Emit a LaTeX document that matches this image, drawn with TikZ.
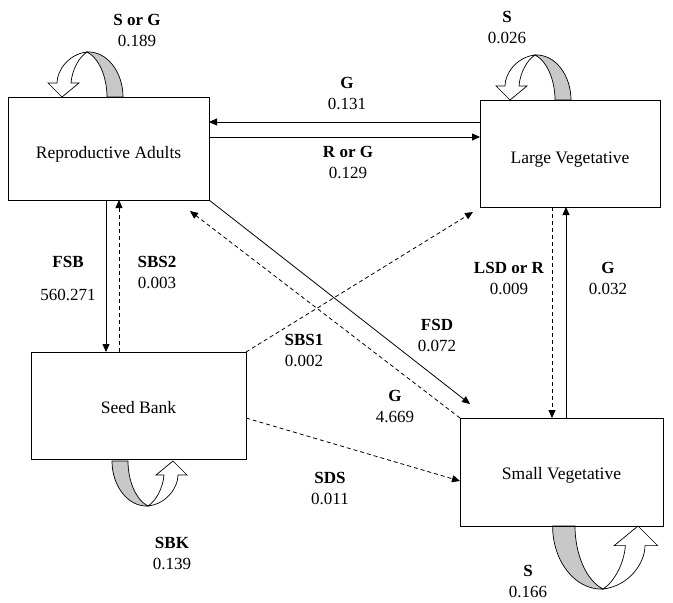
\documentclass[tikz,border=0pt]{standalone}
\usepackage{fontspec}
\setmainfont{Liberation Serif}
\usetikzlibrary{arrows.meta}
\definecolor{band}{RGB}{200,200,200}
\newcommand\boxlbl[2]{\smash{\raisebox{-#1}{#2}}}
\tikzset{
  box/.style={draw, line width=0.9pt, outer sep=0pt, inner sep=0pt, font=\fontsize{17.5}{20}\selectfont},
  arr/.style={line width=0.8pt, -{Triangle[length=8pt,width=7pt]}},
  dsh/.style={arr, dash pattern=on 4pt off 3pt},
  lbl/.style={align=center, inner sep=0pt, font=\fontsize{17}{21}\selectfont},
  loopa/.pic={
    \filldraw[fill=band, draw=black, line width=0.7pt]
      (0,0) .. controls (20,-1) and (36,20) .. (36,45) -- (20,45)
      .. controls (20,25) and (12,6) .. (0,0) -- cycle;
    \filldraw[fill=white, draw=black, line width=0.7pt]
      (0,0) .. controls (-18,2) and (-30,18) .. (-30,31) -- (-39,31) -- (-25,45)
      -- (-8,31) -- (-16,31) .. controls (-15,18) and (-8,5) .. (0,0) -- cycle;
  }
}
\begin{document}
\begin{tikzpicture}[x=1pt,y=-1pt]
\useasboundingbox[fill=white] (0,0) rectangle (673,603);

% self loops
\path (87,52) pic {loopa};
\path (535,55) pic {loopa};
\path (148,506) pic[rotate=180] {loopa};
\path (603,589) pic[rotate=180,scale=1.4] {loopa};

% boxes
\node[box, minimum width=201pt, minimum height=103pt] (ra) at (108.5,148.5) {\boxlbl{9.5pt}{Reproductive Adults}};
\node[box, minimum width=180pt, minimum height=107pt] (lv) at (570,153.5) {\boxlbl{9.5pt}{Large Vegetative}};
\node[box, minimum width=215pt, minimum height=107pt] (sb) at (138.5,405.5) {\boxlbl{7.5pt}{Seed Bank}};
\node[box, minimum width=203pt, minimum height=108pt] (sv) at (561.5,472) {\boxlbl{7pt}{Small Vegetative}};

% free ends
\coordinate (fsdEnd) at (470,404);
\coordinate (gEnd) at (190,211);
\coordinate (sbsEnd) at (473,212);

% connectors
\draw[arr] (lv.west |- 0,122) -- (ra.east |- 0,122);
\draw[arr] (ra.east |- 0,137) -- (lv.west |- 0,137);
\draw[arr] (ra.south -| 106,0) -- (sb.north -| 106,0);
\draw[dsh] (sb.north -| 119,0) -- (ra.south -| 119,0);
\draw[arr] (ra.south east) -- (fsdEnd);
\draw[dsh] (sv.north west) -- (gEnd);
\draw[dsh] (sb.north east) -- (sbsEnd);
\draw[dsh] (sb.east |- 0,418) -- (sv.west |- 0,481);
\draw[dsh] (lv.south -| 552,0) -- (sv.north -| 552,0);
\draw[arr] (sv.north -| 566,0) -- (lv.south -| 566,0);

% labels
\node[lbl] (l1) at (137,30) {\textbf{S or G}\\0.189};
\node[lbl] (l2) at (507,27) {\textbf{S}\\0.026};
\node[lbl] (l3) at (347,93) {\textbf{G}\\0.131};
\node[lbl] (l4) at (348,162) {\textbf{R or G}\\0.129};
\node[lbl] (l5) at (68,278.5) {\textbf{FSB}\\[12pt]560.271};
\node[lbl] (l6) at (157,272) {\textbf{SBS2}\\0.003};
\node[lbl] (l7) at (304,350) {\textbf{SBS1}\\0.002};
\node[lbl] (l8) at (437,335) {\textbf{FSD}\\0.072};
\node[lbl] (l9) at (395,406) {\textbf{G}\\4.669};
\node[lbl] (l10) at (509,278) {\textbf{LSD or R}\\0.009};
\node[lbl] (l11) at (608,278) {\textbf{G}\\0.032};
\node[lbl] (l12) at (330,488) {\textbf{SDS}\\0.011};
\node[lbl] (l13) at (172,553) {\textbf{SBK}\\0.139};
\node[lbl] (l14) at (528,581) {\textbf{S}\\0.166};
\end{tikzpicture}
\end{document}
